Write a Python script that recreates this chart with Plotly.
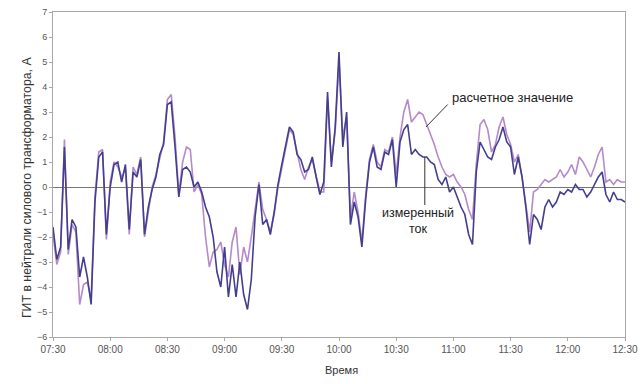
import pandas as pd
import plotly.graph_objects as go

start_time = "2000-01-01 07:30"
step = "2min"
n_points = 151

measured = [
    -1.6, -2.9, -2.4, 1.6, -2.5, -1.3, -1.6, -3.6, -2.8, -3.6,
    -4.7, -0.6, 1.2, 1.4, -1.9, 0.0, 0.9, 1.0, 0.2, 0.9,
    -1.7, 0.6, 0.4, 1.1, -1.9, -0.8, -0.1, 0.4, 1.3, 1.7,
    3.3, 3.4, 1.6, -0.4, 0.7, 0.8, 0.6, 0.0, 0.2, -0.2,
    -0.8, -1.2, -2.0, -3.4, -4.0, -2.4, -4.4, -3.1, -4.4, -3.0,
    -4.3, -4.9, -3.7, -1.2, 0.1, -1.5, -1.3, -1.9, -1.0, 0.1,
    0.9, 1.6, 2.4, 2.2, 1.3, 1.1, 0.6, 0.7, 1.2, 0.4,
    -0.3, 0.2, 3.8, 0.8, 2.4, 5.4, 1.6, 3.0, -1.5, -0.6,
    -1.2, -2.4, -0.5, 1.0, 1.6, 0.8, 0.7, 1.4, 1.3, 1.9,
    0.0, 1.8, 2.3, 2.5, 1.3, 1.5, 1.3, 1.2, 1.2, 1.0,
    0.9, 0.3, 0.1, 0.4, -0.2, 0.0, -0.4, -0.8, -1.1, -1.9,
    -2.3, 0.6, 1.8, 1.5, 1.2, 1.1, 1.6, 1.9, 2.4, 1.8,
    1.6, 0.5, 1.2, 0.4, -0.8, -2.3, -1.1, -1.3, -1.7, -0.8,
    -0.5, -0.8, -0.6, -0.2, -0.3, -0.1, -0.2, 0.1, -0.1, -0.1,
    -0.4, -0.2, 0.1, 0.4, 0.6, -0.3, -0.6, -0.2, -0.5, -0.5,
    -0.6,
]

calculated = [
    -1.9, -3.1, -2.6, 1.9, -2.7, -1.5, -1.8, -4.7, -3.9, -3.8,
    -4.5, -0.4, 1.4, 1.5, -2.1, 0.2, 1.0, 0.8, 0.4, 0.7,
    -1.9, 0.8, 0.5, 1.2, -2.0, -0.9, 0.0, 0.5, 1.2, 1.8,
    3.5, 3.7, 2.0, -0.3, 1.0, 1.6, 1.5, -0.2, 0.1, -0.3,
    -2.0, -3.2, -2.6, -2.5, -2.2, -3.1, -3.6, -2.2, -1.6, -3.5,
    -2.4, -3.0, -2.0, -0.9, 0.2, -0.9, -1.3, -1.8, -1.1, 0.0,
    0.8, 1.5, 2.3, 2.1, 1.4, 0.7, 0.3, 0.8, 1.1, 0.5,
    -0.2, -0.2, 3.5, 1.0, 2.2, 5.0, 2.0, 2.8, -1.2, -0.2,
    -1.0, -2.2, -0.3, 1.1, 1.7, 1.0, 0.8, 1.5, 1.4, 2.0,
    0.5, 2.0, 3.0, 3.5, 2.6, 2.8, 3.0, 2.9, 2.5, 2.1,
    1.7, 1.2, 0.8, 0.5, 0.4, 0.5, 0.2, 0.0, -0.3, -0.9,
    -1.3, 0.9, 2.5, 2.7, 2.3, 1.4, 1.7, 2.4, 2.8, 2.1,
    1.7, 1.0, 1.3, 0.4, -0.6, -1.8, -0.2, -0.1, 0.1, 0.3,
    0.2, 0.3, 0.4, 0.7, 0.4, 0.6, 0.9, 0.5, 1.2, 1.0,
    0.7, 0.4, 0.8, 1.3, 1.6, 0.2, 0.3, 0.1, 0.3, 0.2,
    0.2,
]

y_ticks = list(range(-6, 8))
x_tick_labels = ["07:30", "08:00", "08:30", "09:00", "09:30", "10:00",
                 "10:30", "11:00", "11:30", "12:00", "12:30"]

times = pd.date_range(start_time, periods=n_points, freq=step)
x_tick_vals = [pd.Timestamp("2000-01-01 " + t) for t in x_tick_labels]

fig = go.Figure()
fig.add_trace(go.Scatter(x=times, y=calculated, mode="lines",
                         line=dict(color="#b48ac8", width=1.6),
                         name="расчетное значение", showlegend=False))
fig.add_trace(go.Scatter(x=times, y=measured, mode="lines",
                         line=dict(color="#433f8e", width=1.6),
                         name="измеренный ток", showlegend=False))

font_family = "Liberation Sans, Arial, sans-serif"

fig.update_layout(
    width=641, height=384,
    margin=dict(l=53, r=16, t=12, b=47),
    paper_bgcolor="white", plot_bgcolor="white",
    font=dict(family=font_family, color="#444", size=10),
    xaxis=dict(
        range=[x_tick_vals[0], x_tick_vals[-1]],
        tickvals=x_tick_vals, ticktext=x_tick_labels,
        showgrid=False, zeroline=False, automargin=False,
        ticklabeloverflow="allow",
        showline=True, linecolor="#a8a8a8", linewidth=1, mirror=True,
        ticks="outside", ticklen=3, tickcolor="#a8a8a8",
        tickfont=dict(size=10, color="#555"),
    ),
    yaxis=dict(
        range=[-6, 7], tickvals=y_ticks, automargin=False,
        ticklabeloverflow="allow",
        showgrid=False, zeroline=True, zerolinecolor="#777", zerolinewidth=1,
        showline=True, linecolor="#a8a8a8", linewidth=1, mirror=True,
        ticks="outside", ticklen=3, tickcolor="#a8a8a8",
        tickfont=dict(size=9, color="#555"),
    ),
)

# axis titles
fig.add_annotation(xref="paper", yref="paper", x=0.505, y=-0.126,
                   text="Время", showarrow=False,
                   font=dict(size=11, color="#333", family=font_family))
fig.add_annotation(xref="paper", yref="paper", x=-0.062, y=0.46,
                   text="ГИТ в нейтрали силового трансформатора, А",
                   textangle=-90, showarrow=False,
                   font=dict(size=12.3, color="#333", family=font_family))

# callout for calculated
fig.add_shape(type="line", xref="x", yref="y",
              x0=pd.Timestamp("2000-01-01 10:45:36"), y0=2.4,
              x1=pd.Timestamp("2000-01-01 10:57:00"), y1=3.3,
              line=dict(color="#333", width=1))
fig.add_annotation(x=pd.Timestamp("2000-01-01 10:58:00"), y=3.6, xref="x", yref="y",
                   text="расчетное значение", showarrow=False, xanchor="left",
                   font=dict(size=13, color="#222", family=font_family))

# callout for measured
fig.add_shape(type="line", xref="x", yref="y",
              x0=pd.Timestamp("2000-01-01 10:45:00"), y0=1.2,
              x1=pd.Timestamp("2000-01-01 10:45:00"), y1=-0.72,
              line=dict(color="#333", width=1))
fig.add_annotation(x=pd.Timestamp("2000-01-01 10:41:30"), y=-1.36, xref="x", yref="y",
                   text="измеренный<br>ток", showarrow=False,
                   font=dict(size=12.5, color="#222", family=font_family))

fig.write_html("out.html",
               config={"displayModeBar": False},
               post_script="document.body.style.margin='0';")
